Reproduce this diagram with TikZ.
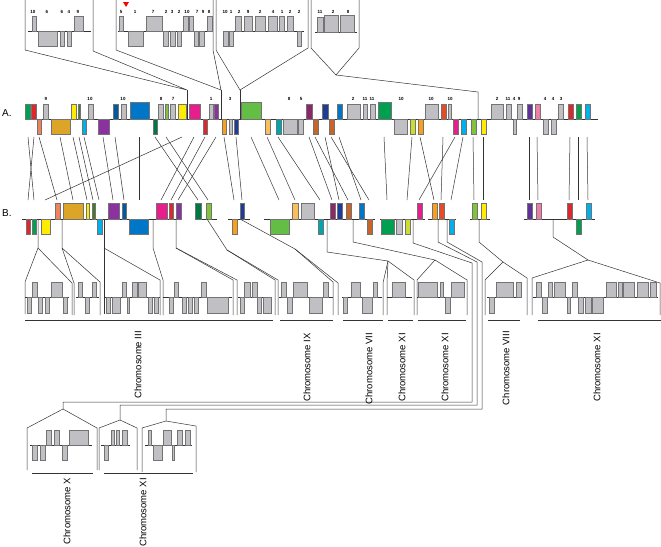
\documentclass[tikz,border=0pt]{standalone}
\usepackage{fontspec}
\setmainfont{Liberation Sans}
\usetikzlibrary{positioning}

\definecolor{cgray}{RGB}{192,192,196}
\definecolor{cgreen}{RGB}{0,160,80}
\definecolor{cred}{RGB}{220,40,45}
\definecolor{cyellow}{RGB}{255,236,0}
\definecolor{colive}{RGB}{70,120,40}
\definecolor{csalmon}{RGB}{240,130,90}
\definecolor{cgold}{RGB}{220,165,40}
\definecolor{ccyan}{RGB}{0,176,236}
\definecolor{cpurple}{RGB}{140,50,160}
\definecolor{cmarine}{RGB}{0,90,160}
\definecolor{cblue}{RGB}{0,118,200}
\definecolor{cdkgreen}{RGB}{0,120,70}
\definecolor{clime}{RGB}{130,195,60}
\definecolor{cmagenta}{RGB}{232,30,140}
\definecolor{corange}{RGB}{248,160,30}
\definecolor{cnavy}{RGB}{30,60,150}
\definecolor{cgrass}{RGB}{100,190,70}
\definecolor{cltorange}{RGB}{250,190,90}
\definecolor{cteal}{RGB}{0,165,175}
\definecolor{cplum}{RGB}{140,40,105}
\definecolor{cbrown}{RGB}{200,100,40}
\definecolor{cygreen}{RGB}{205,220,50}
\definecolor{cindigo}{RGB}{95,50,150}
\definecolor{cpink}{RGB}{240,125,165}
\definecolor{credor}{RGB}{230,75,40}

\tikzset{
  gene/.style={draw=black!55, fill=#1, line width=0.4pt},
  link/.style={draw=black!80, line width=0.5pt},
  axis/.style={draw=black!80, line width=0.6pt},
  num/.style={font=\fontsize{4.5}{5}\selectfont\bfseries, inner sep=0pt},
  chrom/.style={font=\fontsize{9.5}{11}\selectfont, rotate=90, anchor=east, inner sep=0pt},
  rowlab/.style={font=\fontsize{10}{12}\selectfont, anchor=west, inner sep=0pt}
}

\begin{document}
\begin{tikzpicture}[x=1pt,y=-1pt]
\useasboundingbox (0,0) rectangle (661,546);

% top boxes, zoomed from row A
\draw[link] (25,0) -- (25,50) -- (187,90) -- (93,51) -- (93,0);
\draw[link] (187,90) -- (187,119);
\draw[link] (116,0) -- (116,50) -- (221,90) -- (213,50) -- (213,0);
\draw[link] (221,90) -- (221,119);
\draw[link] (216,0) -- (216,50) -- (240,90) -- (308,48) -- (308,0);
\draw[link] (240,90) -- (240,119);
\draw[link] (311,0) -- (311,48) -- (336,75) -- (359,48) -- (359,0);
\draw[link] (336,75) -- (478,92) -- (478,119);
\fill[red] (123,2) -- (129,2) -- (126,7) -- cycle;

\draw[axis] (28,31) -- (91,31);
\draw[axis] (118,31) -- (213,31);
\draw[axis] (223,31) -- (304,31);
\draw[axis] (315,32) -- (357,32);
\foreach \a/\b in {32/36, 74/83, 119/123, 146/162, 183/188, 189/193, 207/212,
    235/241, 244/252, 255/265, 268/277, 279/284, 287/293}
  \draw[gene=cgray] (\a,16) rectangle (\b,31);
\foreach \a/\b in {38/57, 60/64, 67/71, 128/143, 163/168, 170/175, 177/181,
    194/198, 199/204, 223/228, 229/233, 297/301}
  \draw[gene=cgray] (\a,31) rectangle (\b,46);
\draw[gene=cgray] (317,17) rectangle (323,32);
\draw[gene=cgray] (324,15) rectangle (338,32);
\draw[gene=cgray] (340,15) rectangle (354,32);
\foreach \x/\t in {33/10, 47/6, 62/6, 69/4, 78/9, 121/5, 135/1, 153/7, 166/2,
    172/3, 179/2, 187/10, 197/7, 203/9, 209/8, 225/10, 231/1, 239/2, 248/9,
    260/2, 273/4, 282/1, 290/2, 299/2, 320/11, 333/2, 348/8}
  \node[num] at (\x,12) {\t};

% row A
\node[rowlab] (labA) at (2,113) {A.};
\draw[axis] (25,119) -- (598,119);
\foreach \a/\b/\c in {25/30/cgreen, 31/36/cred, 43/48/cgray, 71/76/cyellow,
    78/80/colive, 88/93/cgray, 113/118/cmarine, 121/126/cgray, 158/163/cgray,
    165/168/clime, 170/175/cgray, 178/186/cyellow, 189/200/cmagenta,
    209/213/cgray, 214/218/cpurple, 306/312/cplum, 322/328/cnavy,
    337/342/cblue, 347/360/cgray, 363/367/cgray, 370/375/cgray, 425/438/cgray,
    441/446/credor, 448/451/cgray, 491/503/cgray, 506/511/cgray, 517/522/cgray,
    527/532/cindigo, 535/540/cpink, 558/563/cgray, 568/573/cred,
    576/581/cgreen, 585/590/ccyan}
  \draw[gene=\c] (\a,104) rectangle (\b,119);
\foreach \a/\b/\c in {130/149/cblue, 241/261/cgrass, 378/391/cgreen}
  \draw[gene=\c] (\a,102) rectangle (\b,119);
\foreach \a/\b/\c in {37/41/csalmon, 51/70/cgold, 82/86/ccyan, 98/109/cpurple,
    153/157/cdkgreen, 203/207/cred, 222/226/corange, 229/232/cgray,
    234/238/cnavy, 265/270/cltorange, 276/281/cteal, 283/297/cgray,
    298/303/cgray, 313/318/cbrown, 329/334/cbrown, 394/407/cgray,
    410/415/cygreen, 418/423/corange, 453/458/cmagenta, 461/466/ccyan,
    471/476/clime, 481/486/cyellow, 513/516/cgray, 543/548/cgray,
    551/556/cgray}
  \draw[gene=\c] (\a,119) rectangle (\b,134);
\foreach \x/\t in {46/9, 90/10, 123/10, 161/8, 173/7, 211/1, 230/3, 289/8,
    301/5, 353/2, 365/11, 372/11, 401/10, 431/10, 450/10, 497/2, 508/11,
    514/4, 519/9, 545/4, 553/4, 561/3}
  \node[num] at (\x,99) {\t};

% links A -> B
\foreach \p/\q in {28/34, 34/28, 39/57, 60/73, 73/87, 79/93, 84/99, 103/113,
    115/124, 139/139, 182/45, 155/198, 166/208, 194/161, 205/171, 216/178,
    224/234, 236/242, 251/279, 267/295, 278/320, 309/332, 315/348, 325/339,
    339/361, 331/369, 384/387, 412/407, 420/434, 443/441, 455/419, 463/451,
    473/474, 483/483, 529/529, 537/538, 570/569, 578/578, 587/588}
  \draw[link] (\p,137) -- (\q,200);

% row B
\node[rowlab] (labB) at (2,213) {B.};
\foreach \a/\b in {22/182, 195/217, 228/250, 264/375, 380/425, 428/456,
    470/490, 524/595}
  \draw[axis] (\a,219) -- (\b,219);
\foreach \a/\b/\c in {55/60/csalmon, 63/83/cgold, 86/89/cyellow, 92/95/colive,
    108/119/cpurple, 122/126/cmarine, 156/167/cmagenta, 169/173/cred,
    176/181/cpurple, 195/201/cdkgreen, 206/211/clime, 240/244/cnavy,
    292/298/cltorange, 301/314/cgray, 330/335/cplum, 337/342/cnavy,
    346/351/cbrown, 359/364/cblue, 417/422/cmagenta, 432/437/corange,
    439/444/credor, 472/477/clime, 481/486/cyellow, 527/532/cindigo,
    536/541/cpink, 567/572/cred, 586/591/ccyan}
  \draw[gene=\c] (\a,203) rectangle (\b,219);
\foreach \a/\b/\c in {26/30/cred, 32/36/cgreen, 41/50/cyellow, 97/102/ccyan,
    129/148/cblue, 232/237/corange, 270/289/cgrass, 318/323/cteal,
    367/372/cbrown, 381/394/cgreen, 396/402/cgray, 405/410/cygreen,
    449/454/ccyan, 576/581/cgreen}
  \draw[gene=\c] (\a,219) rectangle (\b,234);

% roofs of the lower boxes
\draw[link] (38,219) -- (38,248) -- (25,282) -- (25,314);
\draw[link] (38,248) -- (72,283) -- (72,315);
\draw[link] (62,219) -- (62,248) -- (74,283) -- (74,315);
\draw[link] (62,248) -- (100,282) -- (100,315);
\draw[link] (104,219) -- (104,314);
\draw[link] (104,248) -- (160,280) -- (160,315);
\draw[link] (153,219) -- (153,248) -- (163,280) -- (163,315);
\draw[link] (176,219) -- (176,248) -- (233,280) -- (233,315);
\draw[link] (176,248) -- (237,280) -- (237,315);
\draw[link] (207,219) -- (227,250) -- (275,280) -- (275,315);
\draw[link] (227,250) -- (278,280) -- (278,315);
\draw[link] (240,219) -- (295,249) -- (333,282) -- (333,315);
\draw[link] (295,249) -- (338,283) -- (338,315);
\draw[link] (327,219) -- (327,252) -- (388,261) -- (383,283) -- (383,315);
\draw[link] (388,261) -- (387,283) -- (387,315);
\draw[link] (388,261) -- (414,280) -- (414,315);
\draw[link] (353,219) -- (353,242) -- (435,260) -- (417,280) -- (417,315);
\draw[link] (435,260) -- (467,280) -- (467,315);
\draw[link] (479,219) -- (479,242) -- (503,262) -- (485,280) -- (485,315);
\draw[link] (503,262) -- (527,278) -- (527,315);
\draw[link] (553,219) -- (553,237) -- (588,260) -- (532,278) -- (532,315);
\draw[link] (588,260) -- (660,283) -- (660,315);
% long runs to the bottom boxes
\draw[link] (413,219) -- (413,243) -- (472,263) -- (472,402) -- (63,402) -- (63,409);
\draw[link] (438,219) -- (438,242) -- (477,262) -- (477,405) -- (120,405) -- (120,420);
\draw[link] (447,219) -- (447,242) -- (482,262) -- (482,409) -- (166,409) -- (166,421);

% lower boxes
\foreach \a/\b in {25/69, 76/99, 105/160, 163/232, 238/272, 279/333, 342/382,
    387/412, 417/465, 487/522, 533/658}
  \draw[axis] (\a,297) -- (\b,297);
\foreach \a/\b in {32/37, 51/62, 78/82, 92/96, 122/126, 132/137, 138/146,
    174/178, 201/206, 244/250, 252/257, 281/286, 293/307, 323/328, 351/360,
    373/377, 392/405, 418/437, 440/443, 451/464, 496/513, 516/521, 536/541,
    548/552, 554/565, 572/577, 606/616, 618/622, 623/634, 637/648, 650/656}
  \draw[gene=cgray] (\a,282) rectangle (\b,297);
\foreach \a/\b in {27/31, 38/42, 45/49, 63/67, 85/89, 106/110, 112/120,
    127/129, 148/152, 154/158, 169/173, 182/186, 188/192, 194/198, 207/228,
    240/244, 257/261, 263/271, 287/292, 309/322, 343/347, 362/372, 445/450,
    489/494, 542/547, 567/570, 578/583, 585/591, 592/603}
  \draw[gene=cgray] (\a,297) rectangle (\b,313);
\foreach \a/\b in {25/273, 280/333, 343/383, 388/413, 418/466, 488/520, 538/661}
  \draw[link] (\a,320) -- (\b,320);
\node[chrom] (chrIII) at (138,331) {Chromosome III};
\node[chrom] (chrIX) at (307,333) {Chromosome IX};
\node[chrom] (chrVII) at (369,333) {Chromosome VII};
\node[chrom] (chrXIa) at (402,333) {Chromosome XI};
\node[chrom] (chrXIb) at (445,333) {Chromosome XI};
\node[chrom] (chrVIII) at (506,331) {Chromosome VIII};
\node[chrom] (chrXIc) at (597,333) {Chromosome XI};

% bottom boxes
\draw[link] (63,409) -- (27,428) -- (27,470);
\draw[link] (63,409) -- (97,428) -- (97,470);
\draw[link] (120,420) -- (99,428) -- (99,470);
\draw[link] (120,420) -- (137,428) -- (137,470);
\draw[link] (166,421) -- (142,428) -- (142,472);
\draw[link] (166,421) -- (196,426) -- (196,472);
\foreach \a/\b in {30/92, 101/130, 145/192}
  \draw[axis] (\a,445) -- (\b,445);
\foreach \a/\b in {46/51, 54/59, 69/88, 111/114, 116/119, 122/127, 148/151,
    163/171, 177/182, 185/190}
  \draw[gene=cgray] (\a,430) rectangle (\b,445);
\foreach \a/\b in {32/37, 40/45, 62/67, 104/108, 153/162, 172/174}
  \draw[gene=cgray] (\a,445) rectangle (\b,460);
\draw[link] (32,473) -- (93,473);
\draw[link] (104,473) -- (193,473);
\node[chrom] (chrX) at (67,478) {Chromosome X};
\node[chrom] (chrXId) at (143,478) {Chromosome XI};
\end{tikzpicture}
\end{document}
